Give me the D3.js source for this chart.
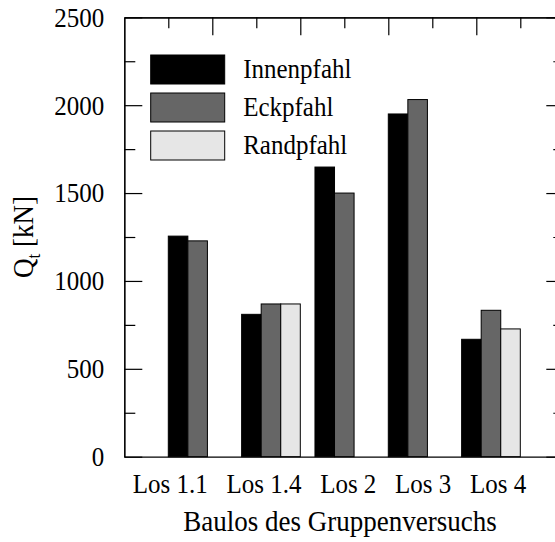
<!DOCTYPE html>
<html><head><meta charset="utf-8">
<script src="https://cdn.jsdelivr.net/npm/d3@7"></script>
<style>
body{margin:0;background:#fff}
svg{display:block}
text{font-family:"Liberation Serif","Times New Roman",serif;fill:#000}
</style>
</head><body><svg id="c" width="555" height="542"></svg>
<script>
const categories = ["Los 1.1","Los 1.4","Los 2","Los 3","Los 4"];
const seriesNames = ["Innenpfahl","Eckpfahl","Randpfahl"];
const innenpfahl = [1255, 810, 1648, 1950, 668];
const eckpfahl   = [1228, 869, 1500, 2032, 833];
const randpfahl  = [null, 869, null, null, 727];
const seriesColors = ["#000000","#666666","#e6e6e6"];
const yTicks = [0,500,1000,1500,2000,2500];
const yMinorTicks = [250,750,1250,1750,2250];
const yTitle = "Q", yTitleSub = "t", yTitleUnit = " [kN]";
const xTitle = "Baulos des Gruppenversuchs";

const seriesValues = [innenpfahl, eckpfahl, randpfahl];

const L = 124.3, T = 17.3, B = 456.7, R = 564.3;
const SY = 1.1; // vertical text stretch seen in the reference
const svg = d3.select("#c");
const x = d3.scaleLinear().domain([0,10]).range([L,R]);
const y = d3.scaleLinear().domain([0,2500]).range([B,T]);
const xg = d3.scaleBand().domain(categories).range([x(1), x(9)]).paddingInner(0.2).paddingOuter(0);
const xs = d3.scaleBand().domain(seriesNames).range([0, xg.bandwidth()]);
const color = d3.scaleOrdinal().domain(seriesNames).range(seriesColors);

// bars
const barData = [];
categories.forEach((c,i)=>seriesNames.forEach((s,j)=>{
  const v = seriesValues[j][i];
  if (v != null) barData.push({c, s, v});
}));
svg.append("g").selectAll("rect").data(barData).join("rect")
  .attr("x", d=>xg(d.c)+xs(d.s))
  .attr("y", d=>y(d.v))
  .attr("width", xs.bandwidth())
  .attr("height", d=>B - y(d.v))
  .attr("fill", d=>color(d.s))
  .attr("stroke", "#000").attr("stroke-width", 1);

function styleAxis(g){
  g.selectAll("path,line").attr("stroke","#000").attr("stroke-width",1.2);
  g.selectAll("text").remove();
}
// left
svg.append("g").attr("transform",`translate(${L},0)`)
  .call(d3.axisRight(y).tickValues(yTicks).tickSize(18).tickSizeOuter(0)).call(styleAxis);
svg.append("g").attr("transform",`translate(${L},0)`)
  .call(d3.axisRight(y).tickValues(yMinorTicks).tickSize(11).tickSizeOuter(0)).call(styleAxis);
// right
svg.append("g").attr("transform",`translate(${R},0)`)
  .call(d3.axisLeft(y).tickValues(yTicks).tickSize(18).tickSizeOuter(0)).call(styleAxis);
svg.append("g").attr("transform",`translate(${R},0)`)
  .call(d3.axisLeft(y).tickValues(yMinorTicks).tickSize(11).tickSizeOuter(0)).call(styleAxis);
// top
svg.append("g").attr("transform",`translate(0,${T})`)
  .call(d3.axisBottom(x).tickValues([2,4,6,8]).tickSize(18).tickSizeOuter(0)).call(styleAxis);
svg.append("g").attr("transform",`translate(0,${T})`)
  .call(d3.axisBottom(x).tickValues([1,3,5,7,9]).tickSize(11).tickSizeOuter(0)).call(styleAxis);
// bottom
svg.append("g").attr("transform",`translate(0,${B})`)
  .call(d3.axisTop(x).tickValues([]).tickSizeOuter(0)).call(styleAxis);

// y tick labels
svg.append("g").selectAll("text").data(yTicks).join("text")
  .attr("transform", d=>`translate(${L-20},${y(d)}) scale(1,${SY})`)
  .attr("text-anchor","end").attr("dy","0.34em").attr("font-size",25)
  .text(d3.format("d"));

// category labels (one string as in original)
svg.append("text").attr("xml:space","preserve").style("white-space","pre")
  .attr("transform",`translate(329.5,493) scale(1,${SY})`)
  .attr("text-anchor","middle").attr("font-size",25)
  .text(categories.join("   "));

// x title
svg.append("text").attr("transform",`translate(340,531) scale(1,${SY})`)
  .attr("text-anchor","middle").attr("font-size",27)
  .text(xTitle);

// y title
const yt = svg.append("text").attr("transform",`translate(33,${(T+B)/2}) rotate(-90) scale(1,${SY})`)
  .attr("text-anchor","middle").attr("font-size",27);
yt.append("tspan").text(yTitle);
yt.append("tspan").attr("font-size",17).attr("dy",6).text(yTitleSub);
yt.append("tspan").attr("dy",-6).text(yTitleUnit);

// legend
const lg = svg.append("g").selectAll("g").data(seriesNames).join("g")
  .attr("transform",(d,i)=>`translate(150.7,${55+38*i})`);
lg.append("rect").attr("width",74).attr("height",29).attr("fill",d=>color(d))
  .attr("stroke","#000").attr("stroke-width",1);
lg.append("text").attr("transform",`translate(92.5,23) scale(1,${SY})`)
  .attr("font-size",25).text(d=>d);
</script>
</body></html>
